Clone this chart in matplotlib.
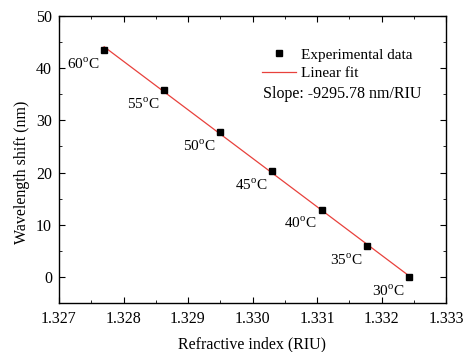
import matplotlib
matplotlib.use("Agg")
import matplotlib.pyplot as plt
import numpy as np
from matplotlib.ticker import MultipleLocator

plt.rcParams['font.family'] = ['Liberation Serif', 'DejaVu Serif']
plt.rcParams['mathtext.fontset'] = 'custom'
plt.rcParams['mathtext.rm'] = 'Liberation Serif'

refractive_index = [1.32770, 1.32863, 1.32950, 1.33031, 1.33107, 1.33178, 1.33242]
wavelength_shift = [43.4, 35.8, 27.8, 20.3, 12.9, 5.9, 0.0]
temperatures = ['60', '55', '50', '45', '40', '35', '30']

fig = plt.figure(figsize=(4.63, 3.52), dpi=100)
ax = fig.add_axes([59/463, 1-303/352, (446-59)/463, (303-16)/352])

x = np.array(refractive_index)
y = np.array(wavelength_shift)
coef = np.polyfit(x, y, 1)
xf = np.array([x.min(), x.max()])
ax.plot(xf, np.polyval(coef, xf), color='#e8413c', lw=0.9, label='Linear fit', zorder=2)
ax.plot(x, y, 's', color='black', ms=4.5, label='Experimental data', linestyle='none', zorder=3)

for xi, yi, t in zip(x, y, temperatures):
    ax.annotate(t + r'$^{\mathrm{o}}$C', (xi, yi), xytext=(-15, -10), textcoords='offset points',
                ha='center', va='center', fontsize=11)

ax.set_xlim(1.327, 1.333)
ax.set_ylim(-5, 50)
ax.xaxis.set_major_locator(MultipleLocator(0.001))
ax.xaxis.set_minor_locator(MultipleLocator(0.0005))
ax.yaxis.set_major_locator(MultipleLocator(10))
ax.yaxis.set_minor_locator(MultipleLocator(5))
ax.xaxis.set_major_formatter(matplotlib.ticker.FormatStrFormatter('%.3f'))
ax.tick_params(which='both', direction='in', top=True, right=True, labelsize=11.5)
ax.tick_params(which='major', length=4)
ax.tick_params(which='minor', length=2.5)
ax.tick_params(axis='x', which='major', pad=6)
ax.tick_params(axis='y', which='major', pad=5)
for s in ax.spines.values():
    s.set_linewidth(1.0)

ax.set_xlabel('Refractive index (RIU)', fontsize=11.5)
ax.xaxis.set_label_coords(0.5, -0.118)
ax.set_ylabel('Wavelength shift (nm)', fontsize=11.5)
ax.yaxis.set_label_coords(-0.075, 0.455)

h, l = ax.get_legend_handles_labels()
leg = ax.legend(h[::-1], l[::-1], loc='upper left', bbox_to_anchor=(0.51, 0.91), frameon=False,
                fontsize=11, handlelength=2.2, handletextpad=0.3, labelspacing=0.3, borderaxespad=0)
ax.text(263, 352-94, 'Slope: -9295.78 nm/RIU', transform=None, fontsize=11.5, va='center', ha='left')

fig.savefig('out.png', dpi=100)
